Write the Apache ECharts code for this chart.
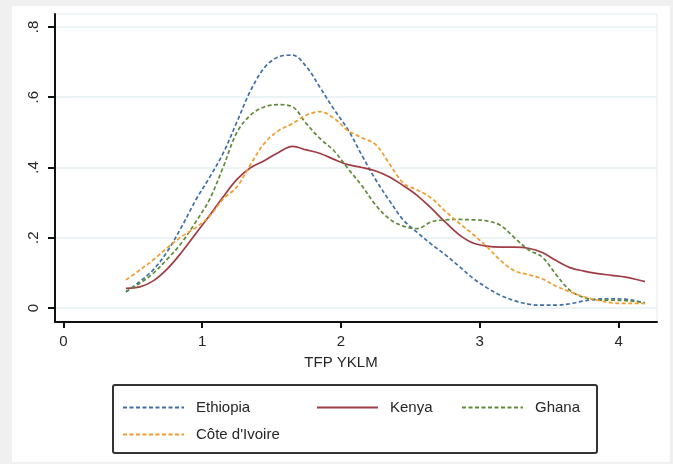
<!DOCTYPE html>
<html>
<head>
<meta charset="utf-8">
<script src="https://cdn.jsdelivr.net/npm/echarts@6/dist/echarts.min.js"></script>
<style>
  html, body { margin: 0; padding: 0; background: #f0f0f0; }
  #chart { position: absolute; left: 12px; top: 6px; width: 658px; height: 456px; background: #ffffff; }
</style>
</head>
<body>
<div id="chart"></div>
<script>
// Kernel density estimates of TFP (YKLM) by country, evaluated on a common grid
const tfp = [0.45, 0.55, 0.65, 0.75, 0.85, 0.95, 1.05, 1.15, 1.25, 1.35, 1.45, 1.55, 1.65,
  1.75, 1.85, 1.95, 2.05, 2.15, 2.25, 2.35, 2.45, 2.55, 2.65, 2.75, 2.85, 2.95, 3.05,
  3.15, 3.25, 3.35, 3.45, 3.55, 3.65, 3.75, 3.85, 3.95, 4.05, 4.15, 4.19];

const ethiopia = [0.046, 0.075, 0.11, 0.162, 0.23, 0.305, 0.37, 0.44, 0.53, 0.62, 0.685, 0.715, 0.72,
  0.687, 0.627, 0.565, 0.508, 0.435, 0.365, 0.305, 0.25, 0.215, 0.182, 0.152, 0.119, 0.085, 0.058,
  0.036, 0.021, 0.011, 0.008, 0.008, 0.012, 0.02, 0.025, 0.026, 0.025, 0.018, 0.013];

const kenya = [0.056, 0.06, 0.078, 0.112, 0.158, 0.21, 0.262, 0.316, 0.366, 0.4, 0.42, 0.443, 0.46,
  0.45, 0.44, 0.423, 0.408, 0.4, 0.39, 0.373, 0.348, 0.32, 0.284, 0.245, 0.209, 0.185, 0.176,
  0.173, 0.173, 0.17, 0.158, 0.135, 0.115, 0.105, 0.098, 0.093, 0.088, 0.079, 0.075];

const ghana = [0.046, 0.07, 0.1, 0.14, 0.185, 0.243, 0.307, 0.4, 0.5, 0.55, 0.573, 0.579, 0.573,
  0.525, 0.482, 0.447, 0.397, 0.348, 0.293, 0.253, 0.233, 0.226, 0.245, 0.251, 0.252, 0.251, 0.248,
  0.235, 0.2, 0.166, 0.145, 0.095, 0.05, 0.03, 0.023, 0.022, 0.021, 0.017, 0.015];

const coteIvoire = [0.08, 0.108, 0.138, 0.172, 0.203, 0.228, 0.26, 0.31, 0.345, 0.41, 0.47, 0.505, 0.525,
  0.549, 0.559, 0.54, 0.505, 0.485, 0.465, 0.41, 0.355, 0.336, 0.313, 0.276, 0.242, 0.21, 0.175,
  0.135, 0.106, 0.095, 0.083, 0.062, 0.046, 0.032, 0.022, 0.015, 0.013, 0.013, 0.013];

const xTicks = [0, 1, 2, 3, 4];
const yTicks = [0, 0.2, 0.4, 0.6, 0.8];
const yTickLabels = ['0', '.2', '.4', '.6', '.8'];
const xTitle = 'TFP YKLM';

const FONT = '"Liberation Sans", Arial, Helvetica, sans-serif';
const INK = '#262626';

const pairs = (ys) => tfp.map((x, i) => [x, ys[i]]);

function densitySeries(name, ys, color, dashed) {
  return {
    name: name,
    type: 'line',
    data: pairs(ys),
    symbol: 'none',
    smooth: 0.35,
    lineStyle: { color: color, width: 1.7, type: dashed ? [4, 2.5] : 'solid' },
    itemStyle: { color: color },
    emphasis: { disabled: true }
  };
}

// one legend block per key so the keys sit in Stata-like columns
function legendItem(name, left, top) {
  return {
    data: [name],
    left: left, top: top,
    orient: 'horizontal',
    padding: 0,
    itemWidth: 61, itemHeight: 16,
    itemStyle: { opacity: 0 },
    selectedMode: false,
    textStyle: { fontFamily: FONT, fontSize: 15, color: INK, padding: [0, 0, 0, 7] }
  };
}

const chart = echarts.init(document.getElementById('chart'), null, { renderer: 'canvas' });

chart.setOption({
  animation: false,
  backgroundColor: '#ffffff',
  grid: {
    left: 43, top: 8, width: 602, height: 308,
    show: true, borderColor: '#e3ecf0', borderWidth: 1, backgroundColor: 'transparent'
  },
  xAxis: {
    type: 'value',
    min: -0.061, max: 4.277,
    axisLine: { show: true, onZero: false, lineStyle: { color: '#111', width: 2 } },
    axisTick: { show: true, customValues: xTicks, length: 6, lineStyle: { color: '#111', width: 2 } },
    axisLabel: { customValues: xTicks, margin: 12, fontFamily: FONT, fontSize: 15, color: INK },
    splitLine: { show: false }
  },
  yAxis: {
    type: 'value',
    min: -0.0399, max: 0.837,
    axisLine: { show: true, onZero: false, lineStyle: { color: '#111', width: 2 } },
    axisTick: { show: true, customValues: yTicks, length: 7, lineStyle: { color: '#111', width: 2 } },
    axisLabel: {
      customValues: yTicks, rotate: 90, margin: 14,
      fontFamily: FONT, fontSize: 15, color: INK,
      formatter: (v) => yTickLabels[yTicks.findIndex(t => Math.abs(t - v) < 1e-9)]
    },
    splitLine: { show: true, lineStyle: { color: '#e6eff2', width: 1.5 } }
  },
  legend: [
    legendItem('Ethiopia', 110, 394),
    legendItem('Kenya', 304, 394),
    legendItem('Ghana', 449, 394),
    legendItem("Côte d'Ivoire", 110, 421)
  ],
  graphic: [
    {
      type: 'rect',
      shape: { x: 101, y: 379, width: 484, height: 68, r: 2 },
      style: { fill: 'none', stroke: '#333', lineWidth: 2 },
      silent: true
    },
    {
      type: 'text',
      x: 329, y: 357,
      style: {
        text: xTitle, fontFamily: FONT, fontSize: 15, fill: INK,
        align: 'center', verticalAlign: 'middle'
      },
      silent: true
    }
  ],
  series: [
    densitySeries('Ethiopia', ethiopia, '#3f6fa6', true),
    densitySeries('Kenya', kenya, '#a03c44', false),
    densitySeries('Ghana', ghana, '#5f8a3a', true),
    densitySeries("Côte d'Ivoire", coteIvoire, '#f29b2c', true)
  ]
});
</script>
</body>
</html>
